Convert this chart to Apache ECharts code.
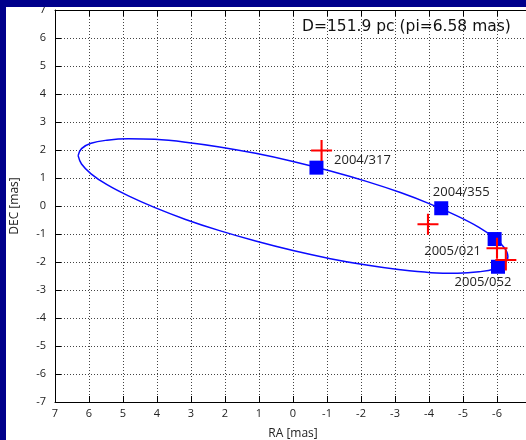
<!DOCTYPE html>
<html>
<head>
<meta charset="utf-8">
<script src="https://cdn.jsdelivr.net/npm/echarts@6/dist/echarts.min.js"></script>
<style>
  html, body { margin: 0; padding: 0; background: #ffffff; }
  #chart { width: 526px; height: 440px; }
</style>
</head>
<body>
<div id="chart"></div>
<script>
// Parallax ellipse traced on the sky (RA, DEC offsets in mas)
const ellipseRA = [6.32, 6.22, 5.94, 5.47, 4.84, 4.06, 3.16, 2.16, 1.10, 0.00,
  -1.10, -2.16, -3.16, -4.06, -4.84, -5.47, -5.94, -6.22, -6.32,
  -6.22, -5.94, -5.47, -4.84, -4.06, -3.16, -2.16, -1.10, 0.00,
  1.10, 2.16, 3.16, 4.06, 4.84, 5.47, 5.94, 6.22, 6.32];
const ellipseDEC = [1.80, 2.05, 2.24, 2.35, 2.40, 2.38, 2.28, 2.11, 1.88, 1.59,
  1.25, 0.88, 0.48, 0.06, -0.36, -0.76, -1.15, -1.50, -1.80,
  -2.05, -2.24, -2.35, -2.40, -2.38, -2.28, -2.11, -1.88, -1.59,
  -1.25, -0.88, -0.48, -0.06, 0.36, 0.76, 1.15, 1.50, 1.80];

// Epochs of observation (year/day)
const epochs = ['2004/317', '2004/355', '2005/021', '2005/052'];
// Model positions on the ellipse at each epoch
const modelRA = [-0.69, -4.36, -5.93, -6.03];
const modelDEC = [1.37, -0.08, -1.18, -2.17];
// Measured positions
const obsRA = [-0.84, -3.97, -6.00, -6.26];
const obsDEC = [1.98, -0.65, -1.51, -1.93];

const distanceText = 'D=151.9 pc (pi=6.58 mas)';
const axisMin = -7, axisMax = 7, axisStep = 1;

// Label placement next to each epoch marker (pixels from marker centre)
const epochLabelShift = [[46, -7], [20, -16], [-42, 12], [-15, 16]];

const FONT = '"Open Sans", "DejaVu Sans", sans-serif';
const chart = echarts.init(document.getElementById('chart'), null, { renderer: 'canvas' });

const ellipseData = ellipseRA.map((x, i) => [x, ellipseDEC[i]]);
const modelData = modelRA.map((x, i) => ({
  value: [x, modelDEC[i]],
  label: { offset: epochLabelShift[i] }
}));
const obsData = obsRA.map((x, i) => [x, obsDEC[i]]);

const tickStyle = { show: true, inside: true, length: 6, lineStyle: { color: '#000', width: 1 } };
const axisLineStyle = { show: true, onZero: false, lineStyle: { color: '#000', width: 1 } };
const gridLine = { show: true, lineStyle: { color: '#444', width: 1, type: [1, 2] } };

chart.setOption({
  backgroundColor: '#ffffff',
  animation: false,
  grid: { left: 55, top: 10, width: 476, height: 392, outerBoundsMode: 'none' },
  xAxis: [
    {
      type: 'value', min: axisMin, max: axisMax, interval: axisStep, inverse: true,
      name: 'RA [mas]', nameLocation: 'middle', nameGap: 26,
      nameTextStyle: { fontFamily: FONT, fontSize: 12, color: '#222' },
      axisLine: axisLineStyle, axisTick: tickStyle,
      axisLabel: { fontFamily: FONT, fontSize: 11, color: '#222', margin: 6, showMinLabel: true, showMaxLabel: true },
      splitLine: gridLine
    },
    {
      type: 'value', position: 'top', min: axisMin, max: axisMax, interval: axisStep, inverse: true,
      axisLine: axisLineStyle, axisTick: tickStyle,
      axisLabel: { show: false }, splitLine: { show: false }
    }
  ],
  yAxis: [
    {
      type: 'value', min: axisMin, max: axisMax, interval: axisStep,
      name: 'DEC [mas]', nameLocation: 'middle', nameGap: 34, nameRotate: 90,
      nameTextStyle: { fontFamily: FONT, fontSize: 12, color: '#222' },
      axisLine: axisLineStyle, axisTick: tickStyle,
      axisLabel: { fontFamily: FONT, fontSize: 11, color: '#222', margin: 9, showMinLabel: true, showMaxLabel: true },
      splitLine: gridLine
    }
  ],
  series: [
    {
      type: 'line', data: ellipseData, smooth: 0.4, showSymbol: false, symbol: 'none',
      lineStyle: { color: '#0a0aff', width: 1.5 }, z: 2
    },
    {
      type: 'scatter', data: modelData, symbol: 'rect', symbolSize: 14,
      itemStyle: { color: '#0000ff', opacity: 1 },
      label: {
        show: true, position: 'inside', formatter: p => epochs[p.dataIndex],
        fontFamily: FONT, fontSize: 13, color: '#222'
      },
      z: 3
    },
    {
      type: 'scatter', data: obsData,
      symbol: 'path://M9,0h2v20h-2z M0,9h20v2h-20z', symbolSize: 21,
      itemStyle: { color: '#ff0000', opacity: 1 }, z: 4
    }
  ],
  graphic: [
    {
      type: 'text', left: 302, top: 19, z: 50,
      style: { text: distanceText, font: '15.5px "DejaVu Sans", sans-serif', fill: '#111' }
    },
    { type: 'rect', left: 0, top: 0, z: 100, shape: { width: 526, height: 7 }, style: { fill: '#00008b' } },
    { type: 'rect', left: 0, top: 0, z: 100, shape: { width: 6, height: 440 }, style: { fill: '#00008b' } }
  ]
});
</script>
</body>
</html>
